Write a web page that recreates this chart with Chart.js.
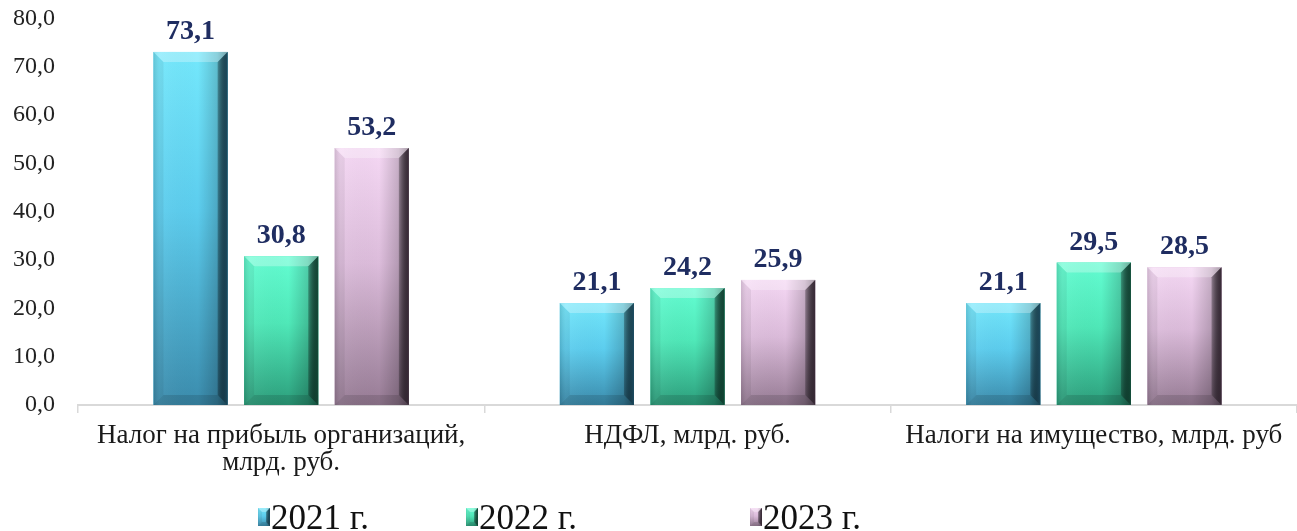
<!DOCTYPE html>
<html>
<head>
<meta charset="utf-8">
<script src="https://cdn.jsdelivr.net/npm/chart.js@4.4.1/dist/chart.umd.min.js"></script>
<style>
  html, body { margin: 0; padding: 0; background: #ffffff; }
  #wrap { width: 1297px; height: 531px; position: relative; }
</style>
</head>
<body>
<div id="wrap"><canvas id="c" width="1297" height="531"></canvas></div>
<script>
// ---- data ----
const categories = [["Налог на прибыль организаций,", "млрд. руб."], "НДФЛ, млрд. руб.", "Налоги на имущество, млрд. руб"];
const seriesLabels = ["2021 г.", "2022 г.", "2023 г."];
const values2021 = [73.1, 21.1, 21.1];
const values2022 = [30.8, 24.2, 29.5];
const values2023 = [53.2, 25.9, 28.5];
const yMin = 0;
const yMax = 80;
const yStep = 10;

// ---- styles ----
const palettes = [
  { top: '#74e8fc', mid: '#5ccdee', bottom: '#3b8cad', edge: '#1c4b60' },
  { top: '#63fdd2', mid: '#4fe8b8', bottom: '#2c9f7c', edge: '#124a37' },
  { top: '#f5d8f4', mid: '#dcbcdb', bottom: '#977c95', edge: '#3a2b38' }
];
const fmt = v => v.toFixed(1).replace('.', ',');

function bevelRect(ctx, left, top, right, bottom, pal, bevel) {
  ctx.save();
  const h = bottom - top, w = right - left;
  const b = Math.min(bevel, h / 3, w / 3);
  let g = ctx.createLinearGradient(0, top, 0, bottom);
  g.addColorStop(0, pal.top);
  g.addColorStop(0.45, pal.mid);
  g.addColorStop(1, pal.bottom);
  ctx.fillStyle = g;
  ctx.fillRect(left, top, w, h);
  g = ctx.createLinearGradient(left, 0, right, 0);
  g.addColorStop(0, 'rgba(0,0,0,0.10)');
  g.addColorStop(0.08, 'rgba(255,255,255,0.05)');
  g.addColorStop(0.6, 'rgba(0,0,0,0)');
  g.addColorStop(0.86, 'rgba(0,0,0,0.18)');
  g.addColorStop(1, 'rgba(0,0,0,0.45)');
  ctx.fillStyle = g;
  ctx.fillRect(left, top, w, h);
  // top bevel
  ctx.beginPath();
  ctx.moveTo(left, top); ctx.lineTo(right, top);
  ctx.lineTo(right - b, top + b); ctx.lineTo(left + b, top + b); ctx.closePath();
  ctx.fillStyle = 'rgba(255,255,255,0.28)';
  ctx.fill();
  // right bevel
  ctx.beginPath();
  ctx.moveTo(right, top); ctx.lineTo(right, bottom);
  ctx.lineTo(right - b, bottom - b); ctx.lineTo(right - b, top + b); ctx.closePath();
  g = ctx.createLinearGradient(right - b, 0, right, 0);
  g.addColorStop(0, 'rgba(0,0,0,0.25)');
  g.addColorStop(1, pal.edge);
  ctx.fillStyle = g;
  ctx.fill();
  // bottom bevel
  ctx.beginPath();
  ctx.moveTo(left, bottom); ctx.lineTo(right, bottom);
  ctx.lineTo(right - b, bottom - b); ctx.lineTo(left + b, bottom - b); ctx.closePath();
  ctx.fillStyle = 'rgba(0,0,0,0.12)';
  ctx.fill();
  // left bevel
  ctx.beginPath();
  ctx.moveTo(left, top); ctx.lineTo(left + b, top + b);
  ctx.lineTo(left + b, bottom - b); ctx.lineTo(left, bottom); ctx.closePath();
  ctx.fillStyle = 'rgba(0,0,0,0.06)';
  ctx.fill();
  ctx.restore();
}

const bevelPlugin = {
  id: 'bevelBars',
  afterDatasetsDraw(chart) {
    const ctx = chart.ctx;
    ctx.save();
    chart.data.datasets.forEach((ds, di) => {
      const meta = chart.getDatasetMeta(di);
      const pal = palettes[di];
      meta.data.forEach((bar) => {
        const p = bar.getProps(['x', 'y', 'base', 'width'], true);
        bevelRect(ctx, p.x - p.width / 2, p.y, p.x + p.width / 2, p.base, pal, 10);
      });
    });
    ctx.font = 'bold 28px "Liberation Serif", "Times New Roman", serif';
    ctx.fillStyle = '#1f2d61';
    ctx.textAlign = 'center';
    ctx.textBaseline = 'alphabetic';
    chart.data.datasets.forEach((ds, di) => {
      const meta = chart.getDatasetMeta(di);
      meta.data.forEach((bar, i) => {
        const p = bar.getProps(['x', 'y'], true);
        ctx.fillText(fmt(ds.data[i]), p.x, p.y - 13);
      });
    });
    ctx.restore();
  }
};

const legendPlugin = {
  id: 'customLegend',
  afterDraw(chart) {
    const ctx = chart.ctx;
    const starts = [258, 466, 750];
    ctx.save();
    chart.data.datasets.forEach((ds, di) => {
      const x = starts[di];
      bevelRect(ctx, x, 508, x + 12, 526, palettes[di], 5);
      ctx.font = '35px "Liberation Serif", "Times New Roman", serif';
      ctx.fillStyle = '#111111';
      ctx.textAlign = 'left';
      ctx.textBaseline = 'alphabetic';
      ctx.fillText(ds.label, x + 13, 529);
    });
    ctx.restore();
  }
};

const datasets = [values2021, values2022, values2023].map((vals, i) => ({
  label: seriesLabels[i],
  data: vals,
  backgroundColor: palettes[i].mid,
  borderWidth: 0,
  barPercentage: 0.818,
  categoryPercentage: 0.669
}));

new Chart(document.getElementById('c'), {
  type: 'bar',
  data: { labels: categories, datasets },
  options: {
    responsive: false,
    devicePixelRatio: 1,
    animation: false,
    layout: { padding: { top: 0, right: 0, left: 0, bottom: 0 } },
    plugins: { legend: { display: false }, tooltip: { enabled: false } },
    scales: {
      x: {
        grid: { display: true, drawOnChartArea: false, drawTicks: true, tickLength: 8, color: '#d9d9d9', offset: true, lineWidth: 1.5 },
        border: { display: true, color: '#d9d9d9', width: 2 },
        ticks: {
          font: { family: '"Liberation Serif", "Times New Roman", serif', size: 27, lineHeight: 1.0 },
          color: '#1a1a1a', padding: 9, maxRotation: 0, autoSkip: false
        },
        afterFit: s => { s.height = 126; }
      },
      y: {
        min: yMin, max: yMax,
        grid: { display: false },
        border: { display: false },
        ticks: {
          stepSize: yStep,
          callback: v => fmt(v),
          font: { family: '"Liberation Serif", "Times New Roman", serif', size: 24, lineHeight: 0.3 },
          color: '#222222', padding: 15
        },
        afterFit: s => { s.width = 78; }
      }
    }
  },
  plugins: [bevelPlugin, legendPlugin]
});
</script>
</body>
</html>
